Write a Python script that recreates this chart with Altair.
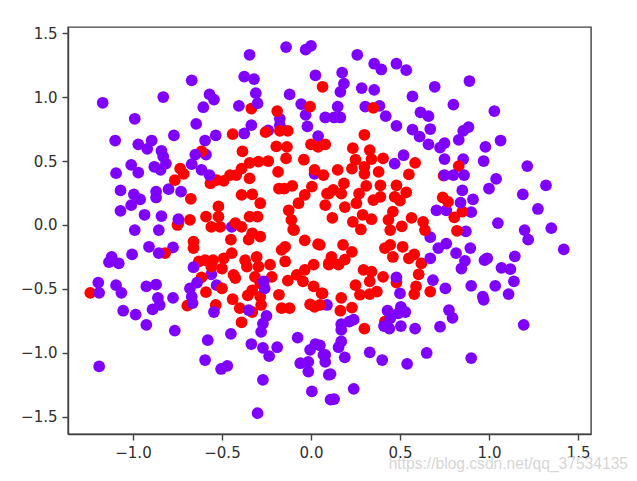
import altair as alt
import pandas as pd

purple_base = [
(-1.17,.955),(-.99,.83),(-.83,1.0),(-.67,1.13),(-.57,1.02),(-.545,.98),(-.605,.92),(-.645,.79),(-.77,.70),(-.535,.70),
(-.595,.66),(-1.10,.66),(-.97,.63),(-.895,.66),(-.92,.595),(-.84,.58),(-.83,.535),(-.815,.48),(-1.01,.47),(-.97,.41),
(-1.095,.405),(-.88,.455),(-.845,.43),(-.59,.55),(-1.07,.27),(-.995,.24),(-.96,.20),(-1.01,.155),(-1.07,.11),(-.87,.26),
(-.87,.215),(-.80,.28),(-.73,.26),(-.935,.08),(-.84,.07),(-.99,-.04),(-.855,-.04),(-.345,1.33),(-.375,1.16),(-.32,1.14),
(-.31,1.03),(-.405,.93),(-.335,.78),(-.375,.715),(-.175,.83),(-.175,.78),(-.24,.74),(-.14,1.39),(-.03,1.37),(0,1.40),
(.025,1.17),(-.12,1.02),(-.055,.945),(-.03,.86),(-.02,.77),(.08,.84),(.04,.695),(.02,.40),
(.26,1.33),(.355,1.26),(.395,1.215),(.48,1.26),(.535,1.21),(.175,1.19),(.185,1.105),(.165,1.04),(.285,1.07),(.355,1.055),
(.695,1.08),(.89,1.125),(.57,1.005),(.80,.94),(1.03,.89),(.305,.925),(.385,.93),(.42,.85),(.48,.775),(.15,.925),
(.13,.84),(.165,.84),(.615,.88),(.66,.85),(.67,.75),(.57,.745),(.61,.69),(.66,.63),(.725,.605),(.75,.64),
(.83,.665),(.855,.735),(.885,.765),(.75,.515),(.855,.515),(.98,.61),(1.065,.66),(.97,.50),(1.215,.46),(1.04,.36),
(1.00,.285),(1.32,.31),(1.19,.24),(1.275,.125),(1.05,.015),(1.20,-.04),(1.35,-.025),(.85,.27),(.91,.20),(.90,.10),
(.705,.115),(.76,.115),(.87,-.05),(-.445,-.015),(-1.12,-.25),(-1.135,-.29),(-1.08,-.30),(-1.005,-.23),(-.91,-.17),(-.775,-.175),
(-.56,-.385),(-.53,-.47),
(.09,-.625),(.67,-.095),(.715,-.18),(.76,-.145),(.895,-.18),(.815,-.22),(.865,-.28),(.845,-.34),(.975,-.275),(.99,-.26),
(1.145,-.245),(1.07,-.335),(1.12,-.345),(1.22,-.115),(1.42,-.19)
]
purple_top = [
(-1.195,-.45),(-1.19,-.53),(-1.095,-.47),(-1.065,-.53),(-.925,-.48),(-.87,-.465),(-.86,-.57),(-.85,-.625),(-.89,-.66),(-.775,-.57),
(-1.055,-.67),(-.985,-.70),(-.925,-.78),(-.765,-.825),(-.855,-.22),(-.66,-.33),(-.64,-.45),(-.68,-.495),(-.67,-.56),(-.665,-.61),
(-.545,-.68),(-.58,-.90),(-.45,-.85),(-.595,-1.055),(-.505,-1.125),(-.47,-1.10),(-1.19,-1.105),(-.27,-1.21),(-.30,-1.47),(-.35,-.665),
(-.26,-.495),(-.265,-.44),(-.25,-.71),(-.27,-.77),(-.28,-.835),(-.335,-.93),(-.27,-.96),(-.235,-1.025),(-.19,-.955),(-.075,-.88),
(.025,-.93),(-.005,-.975),(.07,-1.015),(-.06,-1.08),(-.015,-1.145),(-.015,-1.07),(.005,-1.30),(.10,-1.17),(.11,-1.365),
(-.65,.55),(-.67,.475),(-.615,.43),(-.57,.39),(-.745,.045),(-.30,.95),(.75,.39),(.80,.39),(.86,.39),(.84,.175),
(.52,.545),(.47,.48),(.67,-.26),(.48,-.41),(.50,-.535),(.685,-.43),(.755,-.495),(.90,-.475),(1.035,-.475),(1.14,-.44),
(1.11,-.54),(.965,-.56),(.97,-.585),(.775,-.665),(.795,-.725),(.725,-.795),(.585,-.81),(.505,-.64),(.53,-.68),(.43,-.67),
(.445,-.73),(.41,-.79),(.44,-.81),(.505,-.79),(.49,-.69),(1.195,-.78),(.17,-.775),(.17,-.82),(.24,-.74),(.215,-.755),
(.17,-.91),(.155,-.955),(.05,-.94),(.08,-1.015),(.08,-1.07),(.19,-1.035),(.33,-.995),(.40,-1.055),(.54,-1.085),(.65,-1.00),
(.90,-1.04),(.11,-1.165),(.24,-1.28),(.13,-1.36)
]
red = [
(.065,1.08),(-.005,.925),(-.335,.91),(-.19,.89),(-.44,.71),(-.255,.725),(-.175,.735),(-.13,.735),(-.195,.615),(-.135,.61),
(-.14,.52),(-.04,.51),(0,.63),(.04,.61),(.08,.63),(-.385,.575),(-.615,.575),(-.735,.44),(-.715,.40),(-.765,.35),
(-.675,.205),(-.565,.325),(-.53,.35),(-.49,.345),(-.455,.39),(-.42,.39),(-.39,.44),(-.345,.485),(-.295,.495),(-.24,.50),
(-.345,.365),(-.185,.415),(-.18,.285),(-.15,.285),(-.105,.305),(.02,.43),(.07,.39),(.005,.30),(-.035,.235),(-.07,.17),
(-.125,.115),(-.11,.04),(-.39,.235),(-.33,.24),(-.285,.17),(-.345,.065),(-.30,.065),(-.52,.145),(-.59,.065),(-.68,.04),
(-.745,.015),(-.52,.065),(-.425,.015),(.08,.155),(.1,.245),(-.10,-.035),
(.35,.915),(.30,.705),(.235,.60),(.33,.585),(.25,.51),(.34,.515),(.405,.52),(.23,.44),(.15,.43),(.30,.455),
(.30,.40),(.38,.415),(.585,.485),(.55,.395),(.83,.46),(.745,.385),(.185,.325),(.125,.275),(.09,.245),(.17,.245),
(.19,.14),(.27,.245),(.255,.17),(.31,.305),(.39,.31),(.35,.195),(.39,.22),(.48,.31),(.47,.22),(.535,.255),
(.50,.19),(.74,.215),(.77,.18),(.85,.105),(.805,.06),(.12,.055),(.29,.08),(.34,.045),(.46,.105),(.435,.04),
(.51,-.01),(.565,.055),(.63,.025),(.235,.025),(.28,-.035),(.82,-.045),(.445,-.04),
(-1.24,-.53),(-.82,-.22),(-.66,-.13),(-.66,-.18),(-.75,0),(-.63,-.285),(-.595,-.275),(-.55,-.275),(-.56,-.325),(-.50,-.34),
(-.49,-.26),(-.445,-.22),(-.45,-.115),(-.56,-.015),(-.51,-.015),(-.39,-.015),(-.33,-.065),(-.285,-.09),(-.35,-.115),(-.37,-.275),
(-.305,-.25),(-.36,-.325),(-.295,-.325),(-.23,-.31),(-.145,-.17),(-.165,-.195),(-.145,-.285),(-.095,-.04),(-.035,-.12),(.04,-.15),
(-.435,-.39),(-.425,-.415),(-.315,-.405),(-.22,-.405),(-.285,-.455),(-.615,-.41),(-.59,-.525),(-.50,-.495),(-.44,-.58),(-.535,-.625),
(-.695,-.63),(-.40,-.65),(-.39,-.76),(-.33,-.51),(-.355,-.55),(-.285,-.56),(-.28,-.625),(-.33,-.68),(-.18,-.545),(-.165,-.65),
(-.12,-.65),(-.13,-.435),(-.08,-.39),(-.035,-.35),(.015,-.31),(.10,-.30),(-.045,-.44),(.015,-.48),(.06,-.535),(-.005,-.62),(.02,-.64),
(.64,-.04),(.18,-.155),(.23,-.21),(.05,-.155),(.115,-.25),(.155,-.31),(.10,-.31),(.19,-.27),(.415,-.18),(.445,-.155),
(.46,-.25),(.515,-.17),(.55,-.26),(.58,-.23),(.62,-.30),(.605,-.385),(.295,-.35),(.34,-.365),(.405,-.405),(.33,-.44),
(.25,-.47),(.275,-.545),(.33,-.54),(.37,-.52),(.48,-.45),(.59,-.48),(.58,-.54),(.67,-.52),(.17,-.57),(.23,-.645),
(.165,-.67),(.065,-.535),(.30,-.81),(.415,-.755),(.05,-.625)
]
x_ticks = [-1.0, -0.5, 0.0, 0.5, 1.0, 1.5]
y_ticks = [-1.5, -1.0, -0.5, 0.0, 0.5, 1.0, 1.5]
watermark = "https://blog.csdn.net/qq_37534135"
X_DOMAIN = [-1.365, 1.573]
Y_DOMAIN = [-1.633, 1.547]
PURPLE = "#8000ff"
RED = "#ff0000"
FONT = "DejaVu Sans"

def frame(rows):
    return pd.DataFrame(rows, columns=["x", "y"])

x_enc = alt.X("x:Q", scale=alt.Scale(domain=X_DOMAIN, nice=False, zero=False),
              axis=alt.Axis(values=x_ticks, format=".1f", title=None, grid=False))
y_enc = alt.Y("y:Q", scale=alt.Scale(domain=Y_DOMAIN, nice=False, zero=False),
              axis=alt.Axis(values=y_ticks, format=".1f", title=None, grid=False))

def pts(rows, color):
    return alt.Chart(frame(rows)).mark_circle(size=138, opacity=1, color=color).encode(x=x_enc, y=y_enc)

mark = alt.Chart(pd.DataFrame({"t": [watermark]})).mark_text(
    font="Liberation Sans", fontSize=15.6, color="#d6d6d6", align="right", baseline="middle", clip=False,
).encode(x=alt.value(560), y=alt.value(437), text="t:N")

chart = (
    alt.layer(pts(purple_base, PURPLE), pts(red, RED), pts(purple_top, PURPLE), mark)
    .properties(width=523, height=407, padding={"left": 60, "top": 19, "right": 38, "bottom": 39},
                autosize=alt.AutoSizeParams(type="none"))
    .configure_view(stroke="#404040", strokeWidth=1.4)
    .configure_axis(labelFont=FONT, labelFontSize=15, labelColor="#303030", tickColor="#404040",
                    domainColor="#404040", tickSize=6, labelPadding=5, domainWidth=1.4, tickWidth=1.4)
)
chart.save("out.html", embed_options={"renderer": "svg", "actions": False})
